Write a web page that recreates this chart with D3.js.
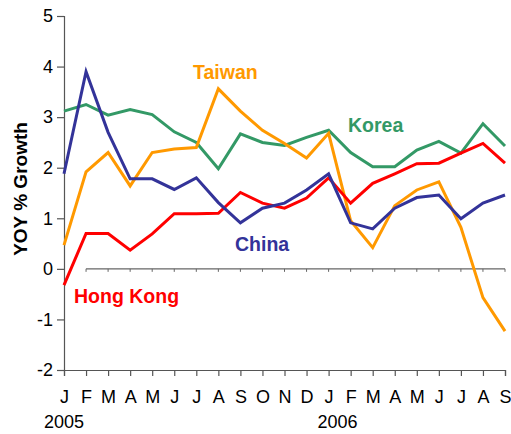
<!DOCTYPE html>
<html><head><meta charset="utf-8">
<script src="https://cdn.jsdelivr.net/npm/d3@7"></script>
<style>body{margin:0;background:#fff}svg{display:block}text{font-family:"Liberation Sans",Arial,sans-serif}</style>
</head><body><svg id="c" width="511" height="434"></svg>
<script>
const months = ["J","F","M","A","M","J","J","A","S","O","N","D","J","F","M","A","M","J","J","A","S"];
const yearLabels = [{i:0,label:"2005"},{i:12,label:"2006"}];
const yTicks = [-2,-1,0,1,2,3,4,5];
const china  = [1.88,3.9,2.7,1.78,1.78,1.57,1.8,1.31,0.91,1.2,1.3,1.56,1.88,0.91,0.79,1.2,1.41,1.46,0.99,1.3,1.46];
const korea  = [3.12,3.25,3.04,3.15,3.05,2.71,2.5,1.98,2.67,2.5,2.44,2.6,2.74,2.3,2.02,2.02,2.35,2.52,2.29,2.87,2.43];
const hongKong = [-0.32,0.7,0.7,0.37,0.69,1.09,1.09,1.1,1.51,1.3,1.2,1.4,1.8,1.3,1.69,1.88,2.08,2.09,2.29,2.48,2.09];
const taiwan = [0.47,1.92,2.3,1.64,2.3,2.37,2.4,3.56,3.12,2.74,2.48,2.19,2.68,0.95,0.42,1.25,1.56,1.72,0.82,-0.57,-1.23];
const seriesNames = ["Taiwan","Korea","China","Hong Kong"];
const seriesColors = ["#FF9900","#339966","#333399","#FF0000"];

const svg = d3.select("#c");
const x = d3.scaleLinear().domain([0, months.length-1]).range([64,505]);
const y = d3.scaleLinear().domain([-2,5]).range([370,16]);
const axisColor = "#555";
const FONT = "Liberation Sans, Arial, sans-serif";

// y axis
const ya = svg.append("g").attr("transform","translate(64,0)")
  .call(d3.axisLeft(y).tickValues(yTicks).tickSize(7).tickPadding(4).tickFormat(d=>String(d)));
ya.select(".domain").attr("stroke",axisColor).attr("stroke-width",1.2);
ya.selectAll(".tick line").attr("stroke",axisColor).attr("stroke-width",1.2);
ya.selectAll("text").attr("font-size",18).attr("fill","#000").attr("font-family",FONT);

// x axis
const xa = svg.append("g").attr("transform","translate(0,370)")
  .call(d3.axisBottom(x).tickValues(d3.range(months.length)).tickSize(6).tickPadding(14).tickFormat(i=>months[i]));
xa.select(".domain").attr("stroke",axisColor).attr("stroke-width",1.2);
xa.selectAll(".tick line").attr("stroke",axisColor).attr("stroke-width",1.2);
xa.selectAll("text").attr("font-size",18).attr("fill","#000").attr("font-family",FONT);

// year labels
svg.selectAll(".yr").data(yearLabels).enter().append("text")
  .attr("x",d=>x(d.i)+(d.i===0?0:9)).attr("y",428).attr("text-anchor","middle")
  .attr("font-size",18).attr("fill","#000").text(d=>d.label);

// zero line with small ticks
svg.append("line").attr("x1",x(1)).attr("x2",x(months.length-1))
  .attr("y1",y(0)).attr("y2",y(0)).attr("stroke","#666").attr("stroke-width",1.2);
svg.selectAll(".zt").data(d3.range(1,months.length)).enter().append("line")
  .attr("x1",d=>x(d)).attr("x2",d=>x(d)).attr("y1",y(0)).attr("y2",y(0)+3)
  .attr("stroke","#666").attr("stroke-width",1);

// y label
svg.append("text").attr("transform","translate(27,189) rotate(-90)")
  .attr("text-anchor","middle").attr("font-size",19).attr("font-weight","bold").text("YOY % Growth");

const line = d3.line().x((d,i)=>x(i)).y(d=>y(d));
const data = [taiwan, korea, china, hongKong];
[1,0,3,2].forEach(k=>{
  svg.append("path").datum(data[k]).attr("d",line).attr("fill","none")
    .attr("stroke",seriesColors[k]).attr("stroke-width",3).attr("stroke-linejoin","miter");
});

const labelPos = [{x:193,y:79},{x:348,y:132},{x:235,y:251},{x:74,y:303}];
seriesNames.forEach((n,k)=>{
  svg.append("text").attr("x",labelPos[k].x).attr("y",labelPos[k].y)
    .attr("font-size",19.5).attr("font-weight","bold").attr("fill",seriesColors[k]).text(n);
});
</script></body></html>
